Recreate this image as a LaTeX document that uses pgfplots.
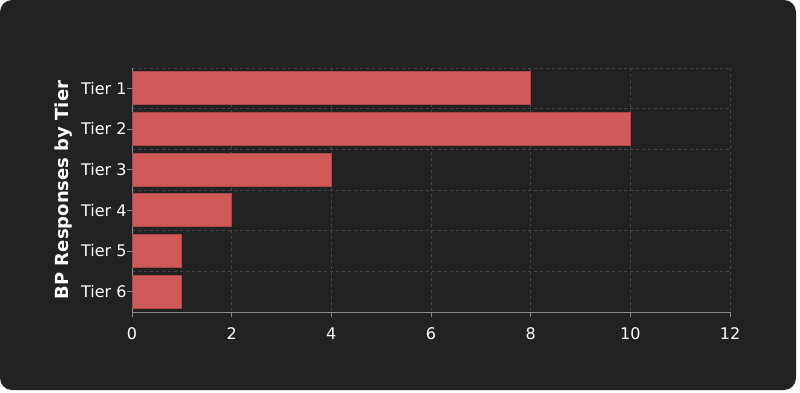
\documentclass[border=0pt]{standalone}
\usepackage{pgfplots}
\pgfplotsset{compat=1.18}
\usepackage{fontspec}
\setmainfont{DejaVu Sans}
\definecolor{bg}{HTML}{222222}
\definecolor{barfill}{HTML}{D05A5A}
\definecolor{baredge}{HTML}{A84848}
\definecolor{gridc}{HTML}{474747}
\definecolor{axisc}{HTML}{8A8A8A}
\begin{document}
\begin{tikzpicture}
\path[fill=white,use as bounding box] (0pt,0pt) rectangle (800pt,392pt);
\fill[bg,rounded corners=12pt] (0pt,2pt) rectangle (796pt,392pt);
\begin{axis}[
  at={(132pt,80pt)}, anchor=south west,
  scale only axis, width=598pt, height=244pt,
  xbar, bar width=0.81,
  xmin=0, xmax=12, xtick={0,2,...,12},
  ymin=0.5, ymax=6.5, y dir=reverse,
  ytick={1,...,6}, yticklabels={Tier 1,Tier 2,Tier 3,Tier 4,Tier 5,Tier 6},
  minor ytick={0.5,1.5,...,6.5},
  xmajorgrids, yminorgrids,
  grid style={gridc, dashed, line width=0.8pt},
  minor grid style={gridc, dashed, line width=0.8pt},
  axis lines=left, axis line style={-, axisc, line width=0.9pt},
  tick style={axisc, line width=0.9pt},
  tick align=outside, major tick length=5pt, minor tick length=0pt,
  ticklabel style={white, font=\fontsize{16}{19}\selectfont},
  /pgf/number format/assume math mode=true,
  ylabel={\textbf{BP Responses by Tier}},
  ylabel style={white, font=\fontsize{18}{21}\selectfont, yshift=2pt},
  xticklabel style={yshift=-7pt},
  yticklabel style={xshift=3pt},
  clip=false,
]
\addplot[fill=barfill, draw=baredge, line width=0.8pt] coordinates {(8,1) (10,2) (4,3) (2,4) (1,5) (1,6)};
\end{axis}
\end{tikzpicture}
\end{document}
